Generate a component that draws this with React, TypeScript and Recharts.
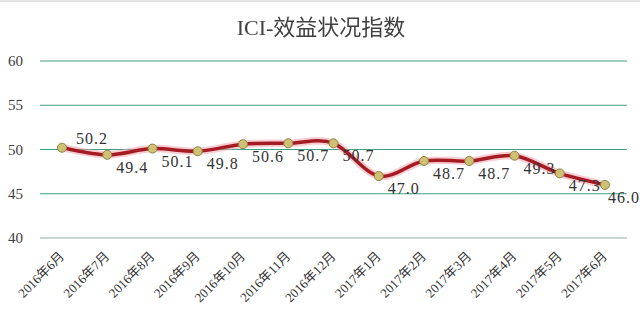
import React from 'react';
import { LineChart, Line, XAxis, YAxis, CartesianGrid } from 'recharts';

const categories = [
  '2016年6月', '2016年7月', '2016年8月', '2016年9月', '2016年10月', '2016年11月', '2016年12月',
  '2017年1月', '2017年2月', '2017年3月', '2017年4月', '2017年5月', '2017年6月',
];
const iciValues = [50.2, 49.4, 50.1, 49.8, 50.6, 50.7, 50.7, 47.0, 48.7, 48.7, 49.3, 47.3, 46.0];
const yTicks = [40, 45, 50, 55, 60];
const titleText = 'ICI-效益状况指数';

const data = categories.map((c, i) => ({ month: c, ici: iciValues[i] }));

const FONT = "'Liberation Serif', 'Noto Sans CJK SC', serif";

// Catmull-Rom style smoothing (similar to Excel smoothed lines)
const smoothCurve: any = (ctx: any) => {
  let pts: number[][] = [];
  return {
    areaStart() {},
    areaEnd() {},
    lineStart() {
      pts = [];
    },
    point(x: number, y: number) {
      pts.push([+x, +y]);
    },
    lineEnd() {
      const n = pts.length;
      if (!n) return;
      ctx.moveTo(pts[0][0], pts[0][1]);
      const k = 1 / 6;
      for (let i = 0; i < n - 1; i++) {
        const p0 = pts[i - 1] || pts[i];
        const p1 = pts[i];
        const p2 = pts[i + 1];
        const p3 = pts[i + 2] || p2;
        ctx.bezierCurveTo(
          p1[0] + k * (p2[0] - p0[0]),
          p1[1] + k * (p2[1] - p0[1]),
          p2[0] - k * (p3[0] - p1[0]),
          p2[1] - k * (p3[1] - p1[1]),
          p2[0],
          p2[1]
        );
      }
    },
  };
};

const XTick = (props: any) => {
  const { x, y, payload } = props;
  const ax = x + 3;
  const ay = y + 11;
  return (
    <text
      x={ax}
      y={ay}
      transform={`rotate(-45, ${ax}, ${ay})`}
      textAnchor="end"
      style={{ fontFamily: FONT, fontSize: 13 }}
      fill="#333333"
    >
      {payload.value}
    </text>
  );
};

const YTick = (props: any) => {
  const { x, y, payload } = props;
  return (
    <text x={x} y={y} dy={5} textAnchor="end" style={{ fontFamily: FONT, fontSize: 15 }} fill="#404040">
      {payload.value}
    </text>
  );
};

const ValueLabel = (props: any) => {
  const { x, y, value, index } = props;
  const first = index === 0;
  const last = index === iciValues.length - 1;
  return (
    <text
      x={x + (first ? 30 : last ? 19 : 25)}
      y={y + (first ? -4 : 18)}
      textAnchor="middle"
      style={{ fontFamily: FONT, fontSize: 16, letterSpacing: 1 }}
      fill="#333333"
    >
      {Number(value).toFixed(1)}
    </text>
  );
};

export default function App() {
  return (
    <div style={{ position: 'fixed', left: 0, top: 0, width: 640, height: 312, background: '#ffffff' }}>
      <div style={{ position: 'absolute', left: 0, top: 0, width: 640, height: 2, background: '#e4e4e4' }} />
      <div
        style={{
          position: 'absolute',
          left: 0,
          width: 642,
          top: 15,
          lineHeight: '26px',
          textAlign: 'center',
          fontFamily: FONT,
          fontSize: 22,
          color: '#404040',
          zIndex: 2,
        }}
      >
        {titleText}
      </div>
      <LineChart width={640} height={312} data={data} margin={{ top: 61, right: 13, bottom: 0, left: 0 }}>
        <CartesianGrid horizontal vertical={false} stroke="#3f9f80" strokeWidth={1.2} />
        <XAxis
          dataKey="month"
          interval={0}
          height={74}
          padding={{ left: 22, right: 22 }}
          axisLine={{ stroke: '#d9d9d9', strokeWidth: 1.5 }}
          tickLine={false}
          tick={<XTick />}
        />
        <YAxis
          domain={[40, 60]}
          ticks={yTicks}
          width={40}
          axisLine={false}
          tickLine={false}
          tickSize={0}
          tickMargin={17}
          tick={<YTick />}
        />
        <Line
          dataKey="ici"
          type={smoothCurve}
          stroke="#f4a3ab"
          strokeOpacity={0.55}
          strokeWidth={7.5}
          dot={false}
          activeDot={false}
          isAnimationActive={false}
        />
        <Line
          dataKey="ici"
          type={smoothCurve}
          stroke="#a51b24"
          strokeWidth={3.5}
          dot={{ r: 4.5, fill: '#cfc174', stroke: '#8c8444', strokeWidth: 1 }}
          activeDot={false}
          label={<ValueLabel />}
          isAnimationActive={false}
        />
      </LineChart>
    </div>
  );
}
